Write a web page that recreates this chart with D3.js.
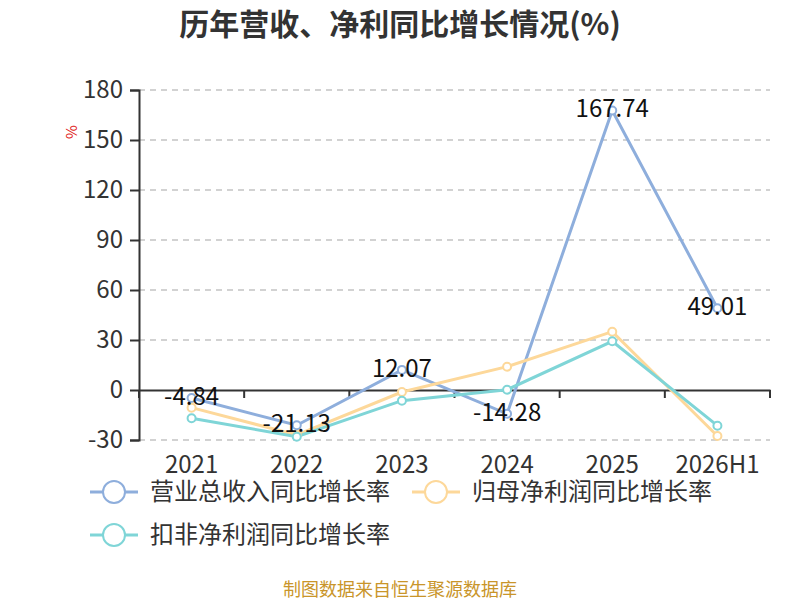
<!DOCTYPE html>
<html lang="zh">
<head>
<meta charset="UTF-8" />
<title>历年营收、净利同比增长情况</title>
<script src="https://d3js.org/d3.v7.min.js"></script>
<style>
  body { margin: 0; background: #fff; font-family: "Noto Sans CJK SC", "Noto Sans", sans-serif; }
  svg { display: block; }
  .grid line { stroke: #c4c4c4; stroke-dasharray: 6 5; stroke-width: 1.3; }
  .axis text { font-size: 24px; fill: #333; font-family: "Noto Sans CJK SC", sans-serif; }
</style>
</head>
<body>
<svg id="chart" width="800" height="600"></svg>
<script>
const years = ["2021", "2022", "2023", "2024", "2025", "2026H1"];
const revenueGrowth = [-4.84, -21.13, 12.07, -14.28, 167.74, 49.01];
const netProfitGrowth = [-10.6, -27.0, -1.2, 14.0, 35.0, -27.6];
const deductedProfitGrowth = [-17.0, -28.0, -6.4, 0.2, 29.2, -21.4];
const yTicks = [-30, 0, 30, 60, 90, 120, 150, 180];

const series = [
  { name: "营业总收入同比增长率", values: revenueGrowth, color: "#8eaedc", labels: true },
  { name: "归母净利润同比增长率", values: netProfitGrowth, color: "#fdd89a", labels: false },
  { name: "扣非净利润同比增长率", values: deductedProfitGrowth, color: "#7fd5d7", labels: false }
];

const svg = d3.select("#chart");
const plotLeft = 139, plotRight = 770, plotTop = 90, plotBottom = 440;

const x = d3.scaleBand().domain(years).range([plotLeft, plotRight]);
const y = d3.scaleLinear().domain([-30, 180]).range([plotBottom, plotTop]);

// title
svg.append("text")
  .attr("x", 400).attr("y", 35)
  .attr("text-anchor", "middle")
  .attr("font-size", 30).attr("font-weight", "bold").attr("fill", "#333")
  .text("历年营收、净利同比增长情况(%)");

// grid
svg.append("g").attr("class", "grid")
  .selectAll("line")
  .data(yTicks.filter(d => d !== 0))
  .join("line")
  .attr("x1", plotLeft).attr("x2", plotRight)
  .attr("y1", d => y(d)).attr("y2", d => y(d));

// y axis
const yAxis = svg.append("g").attr("class", "axis")
  .attr("transform", `translate(${plotLeft},0)`)
  .call(d3.axisLeft(y).tickValues(yTicks).tickFormat(d => String(d)).tickSize(9).tickPadding(7));
yAxis.select(".domain").attr("stroke", "#333").attr("stroke-width", 2);
yAxis.selectAll(".tick line").attr("stroke", "#333").attr("stroke-width", 2);

// x axis at zero
const xAxis = svg.append("g").attr("class", "axis")
  .attr("transform", `translate(0,${y(0)})`)
  .call(d3.axisBottom(x).tickSize(0).tickPadding(0));
xAxis.select(".domain").attr("stroke", "#333").attr("stroke-width", 2);
xAxis.selectAll(".tick text").attr("y", y(-30) - y(0) + 16);
xAxis.selectAll(".boundary")
  .data(d3.range(years.length + 1))
  .join("line")
  .attr("x1", i => plotLeft + i * x.step()).attr("x2", i => plotLeft + i * x.step())
  .attr("y1", 0).attr("y2", 8)
  .attr("stroke", "#333").attr("stroke-width", 2);

// unit
svg.append("text")
  .attr("transform", "translate(73,132) rotate(-90)")
  .attr("text-anchor", "middle")
  .attr("dominant-baseline", "middle")
  .attr("font-size", 15).attr("fill", "#e02020")
  .text("%");

const line = d3.line()
  .x((d, i) => x(years[i]) + x.bandwidth() / 2)
  .y(d => y(d));

series.forEach(s => {
  svg.append("path")
    .datum(s.values)
    .attr("fill", "none")
    .attr("stroke", s.color)
    .attr("stroke-width", 3)
    .attr("d", line);
});

series.forEach(s => {
  svg.append("g").selectAll("circle")
    .data(s.values)
    .join("circle")
    .attr("cx", (d, i) => x(years[i]) + x.bandwidth() / 2)
    .attr("cy", d => y(d))
    .attr("r", 4)
    .attr("fill", "#fff")
    .attr("stroke", s.color)
    .attr("stroke-width", 2);
});

series.filter(s => s.labels).forEach(s => {
  svg.append("g").selectAll("text")
    .data(s.values)
    .join("text")
    .attr("x", (d, i) => x(years[i]) + x.bandwidth() / 2)
    .attr("y", d => y(d) + 7)
    .attr("text-anchor", "middle")
    .attr("font-size", 24).attr("fill", "#111")
    .text(d => d.toFixed(2));
});

// legend
const legendPos = [[90, 492], [412, 492], [90, 535]];
series.forEach((s, i) => {
  const [lx, ly] = legendPos[i];
  const g = svg.append("g").attr("transform", `translate(${lx},${ly})`);
  g.append("line").attr("x1", 0).attr("x2", 48).attr("y1", 0).attr("y2", 0)
    .attr("stroke", s.color).attr("stroke-width", 3);
  g.append("circle").attr("cx", 24).attr("cy", 0).attr("r", 11)
    .attr("fill", "#fff").attr("stroke", s.color).attr("stroke-width", 2);
  g.append("text").attr("x", 60).attr("y", 8)
    .attr("font-size", 24).attr("fill", "#333")
    .text(s.name);
});

// source
svg.append("text")
  .attr("x", 400).attr("y", 596)
  .attr("text-anchor", "middle")
  .attr("font-size", 18).attr("fill", "#c9952a")
  .text("制图数据来自恒生聚源数据库");
</script>
</body>
</html>
